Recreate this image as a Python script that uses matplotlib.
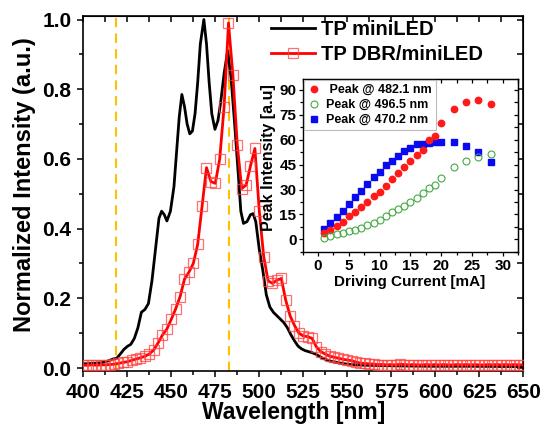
import matplotlib
matplotlib.use("Agg")
import matplotlib.pyplot as plt
from matplotlib.ticker import MultipleLocator

plt.rcParams['font.family'] = ['Liberation Sans', 'DejaVu Sans']
plt.rcParams['font.weight'] = 'bold'

# ---------------- data ----------------
black_wl = [400, 405, 410, 414, 417, 419, 421, 423, 425, 427, 429, 431, 433, 435, 437, 439,
            441, 443, 444.5, 446, 447.5, 449.5, 451.5, 453, 454.5, 456, 457.5, 459, 460.5,
            462, 463.5, 465, 466.5, 468.5, 470, 471.5, 473, 474.8, 476.5, 478, 480, 482,
            484, 486, 488, 489.5, 491, 493, 495, 496.5, 498, 500, 502, 504, 506, 508, 510,
            512, 514, 516, 518, 520, 522, 524, 526, 528, 530, 532, 534, 536, 538, 540, 545,
            550, 555, 560, 570, 580, 600, 620, 650]
black_int = [0.012, 0.013, 0.015, 0.020, 0.026, 0.028, 0.040, 0.053, 0.062, 0.068, 0.085,
             0.115, 0.160, 0.168, 0.185, 0.250, 0.340, 0.430, 0.450, 0.440, 0.422, 0.450,
             0.520, 0.620, 0.720, 0.785, 0.750, 0.700, 0.672, 0.680, 0.730, 0.820, 0.930,
             1.000, 0.930, 0.820, 0.730, 0.685, 0.710, 0.760, 0.845, 0.910, 0.830, 0.700,
             0.560, 0.450, 0.415, 0.420, 0.440, 0.443, 0.420, 0.340, 0.280, 0.210, 0.175,
             0.160, 0.150, 0.140, 0.130, 0.115, 0.095, 0.078, 0.063, 0.055, 0.050, 0.047,
             0.044, 0.040, 0.034, 0.028, 0.024, 0.020, 0.015, 0.011, 0.009, 0.008, 0.007,
             0.006, 0.005, 0.005, 0.004]

red_wl = [400.0, 402.5, 405.0, 407.5, 410.0, 412.5, 415.0, 417.5, 420.0, 422.5, 425.0,
          427.5, 430.0, 432.5, 435.0, 437.5, 440.0, 442.5, 445.0, 447.5, 450.0, 452.5,
          455.0, 457.5, 460.0, 462.5, 465.0, 467.5, 470.0, 472.5, 475.0, 477.5, 480.0,
          482.5, 485.0, 487.5, 490.0, 492.5, 495.0, 497.5, 500.0, 502.5, 505.0, 507.5,
          510.0, 512.5, 515.0, 517.5, 520.0, 522.5, 525.0, 527.5, 530.0, 532.5, 535.0,
          537.5, 540.0, 542.5, 545.0, 547.5, 550.0, 552.5, 555.0, 557.5, 560.0, 562.5,
          565.0, 567.5, 570.0, 572.5, 575.0, 577.5, 580.0, 582.5, 585.0, 587.5, 590.0,
          592.5, 595.0, 597.5, 600.0, 602.5, 605.0, 607.5, 610.0, 612.5, 615.0, 617.5,
          620.0, 622.5, 625.0, 627.5, 630.0, 632.5, 635.0, 637.5, 640.0, 642.5, 645.0,
          647.5, 650.0]
red_int = [0.008, 0.008, 0.009, 0.008, 0.009, 0.009, 0.010, 0.011, 0.013, 0.016, 0.018,
           0.022, 0.026, 0.029, 0.034, 0.040, 0.052, 0.072, 0.095, 0.112, 0.140, 0.170,
           0.205, 0.255, 0.275, 0.300, 0.355, 0.465, 0.575, 0.535, 0.530, 0.600, 0.750,
           0.990, 0.840, 0.640, 0.515, 0.525, 0.580, 0.630, 0.450, 0.320, 0.250, 0.243,
           0.252, 0.257, 0.195, 0.150, 0.122, 0.100, 0.092, 0.090, 0.085, 0.060, 0.047,
           0.040, 0.034, 0.031, 0.028, 0.025, 0.023, 0.021, 0.017, 0.014, 0.013, 0.012,
           0.011, 0.010, 0.010, 0.009, 0.010, 0.009, 0.011, 0.010, 0.009, 0.010, 0.009,
           0.009, 0.010, 0.009, 0.010, 0.009, 0.010, 0.009, 0.009, 0.010, 0.009, 0.010,
           0.009, 0.010, 0.009, 0.009, 0.010, 0.009, 0.010, 0.009, 0.010, 0.009, 0.010,
           0.009, 0.009]

dash_wl = [418.5, 482.7]

current = [1, 2, 3, 4, 5, 6, 7, 8, 9, 10, 11, 12, 13, 14, 15, 16, 17, 18, 19, 20, 22, 24, 26, 28]
peak_482 = [3.6, 5.4, 8.0, 10.6, 13.8, 16.5, 19.3, 22.4, 25.9, 28.5, 32.1, 36.6, 40.2, 43.4,
            47.2, 50.6, 54.0, 59.7, 62.3, 70.3, 78.3, 83.0, 84.2, 81.3]
peak_496 = [1.1, 2.0, 3.0, 3.9, 4.8, 5.9, 7.0, 8.4, 10.0, 11.6, 14.0, 16.2, 18.2, 20.2, 22.5,
            24.8, 27.8, 30.8, 32.8, 37.2, 43.3, 47.3, 49.9, 51.5]
peak_470 = [6.0, 9.6, 13.7, 17.3, 21.5, 25.7, 29.3, 33.3, 37.4, 40.8, 44.6, 47.4, 50.0, 53.0,
            54.8, 57.3, 57.5, 58.3, 58.7, 58.9, 58.7, 56.0, 52.4, 46.9]

# ---------------- figure ----------------
W, H = 551, 437
fig = plt.figure(figsize=(W / 100, H / 100), dpi=100)

def px_axes(l, t, r, b):
    return [l / W, 1 - b / H, (r - l) / W, (b - t) / H]

ax = fig.add_axes(px_axes(83.3, 15.7, 523.3, 370.7))

for x in dash_wl:
    ax.axvline(x, color='#FFC000', lw=1.5, ls=(0, (4.5, 3)), zorder=1)

ax.plot(black_wl, black_int, color='black', lw=2.0, label='TP miniLED', zorder=3)
ax.plot(red_wl, red_int, color='red', lw=2.0, marker='s', ms=7, mfc='none',
        mec=(1, 0.25, 0.25, 0.75), mew=0.9, label='TP DBR/miniLED', zorder=4)

ax.set_xlim(400, 650)
ax.set_ylim(-0.0077, 1.011)
ax.xaxis.set_major_locator(MultipleLocator(25))
ax.xaxis.set_minor_locator(MultipleLocator(12.5))
ax.yaxis.set_major_locator(MultipleLocator(0.2))
ax.yaxis.set_minor_locator(MultipleLocator(0.1))
ax.set_yticks([0.0, 0.2, 0.4, 0.6, 0.8, 1.0])
ax.set_yticklabels(['0.0', '0.2', '0.4', '0.6', '0.8', '1.0'])

for sp in ax.spines.values():
    sp.set_linewidth(1.2)
ax.tick_params(which='both', direction='out', top=False, right=False, width=1.1)
ax.tick_params(which='major', length=4.5)
ax.tick_params(which='minor', length=3)
ax.tick_params(axis='x', labelsize=15, pad=4.5)
ax.tick_params(axis='y', labelsize=15, pad=4)
for lab in ax.get_xticklabels() + ax.get_yticklabels():
    lab.set_fontweight('bold')

# mirrored inward ticks on top/right
axt = ax.secondary_xaxis('top')
axt.xaxis.set_major_locator(MultipleLocator(25))
axt.xaxis.set_minor_locator(MultipleLocator(12.5))
axt.tick_params(which='both', direction='in', labeltop=False, width=1.1)
axt.tick_params(which='major', length=4.5)
axt.tick_params(which='minor', length=4.5)
axr = ax.secondary_yaxis('right')
axr.yaxis.set_major_locator(MultipleLocator(0.2))
axr.yaxis.set_minor_locator(MultipleLocator(0.1))
axr.tick_params(which='both', direction='in', labelright=False, width=1.1)
axr.tick_params(which='major', length=4.5)
axr.tick_params(which='minor', length=4.5)

ax.set_xlabel('Wavelength [nm]', fontsize=16.5, fontweight='bold')
ax.set_ylabel('Normalized Intensity (a.u.)', fontsize=17, fontweight='bold')
ax.xaxis.set_label_coords((293.3 - 83.3) / 440, (370.7 - 413) / 355)
ax.xaxis.label.set_va('center')
ax.yaxis.set_label_coords((25 - 83.3) / 440, (370.7 - 185) / 355)
ax.yaxis.label.set_va('center')

leg = ax.legend(loc='upper left', bbox_to_anchor=(271 / W, 1 - 20 / H),
                bbox_transform=fig.transFigure, frameon=False,
                prop={'weight': 'bold', 'size': 14.5}, handlelength=2.2,
                handletextpad=0.3, labelspacing=0.3, borderpad=0, borderaxespad=0)

# ---------------- inset ----------------
ax2 = fig.add_axes(px_axes(302.7, 79, 518.3, 252))
ax2.set_facecolor('white')
ax2.plot(current, peak_482, ls='none', marker='o', ms=4.6, color='#FF1A1A', mec='#FF1A1A',
         label=' Peak @ 482.1 nm', zorder=3)
ax2.plot(current, peak_496, ls='none', marker='o', ms=5, mfc='none', mec='#44AA44', mew=0.8,
         label='Peak @ 496.5 nm', zorder=3)
ax2.plot(current, peak_470, ls='none', marker='s', ms=4.4, color='#0A0AF0',
         label='Peak @ 470.2 nm', zorder=2)
ax2.set_xlim(-2.5, 32.5)
ax2.set_ylim(-7.6, 96.6)
ax2.xaxis.set_major_locator(MultipleLocator(5))
ax2.xaxis.set_minor_locator(MultipleLocator(2.5))
ax2.yaxis.set_major_locator(MultipleLocator(15))
ax2.yaxis.set_minor_locator(MultipleLocator(7.5))
for sp in ax2.spines.values():
    sp.set_linewidth(1.0)
ax2.tick_params(which='both', direction='out', top=False, right=False, width=0.9)
ax2.tick_params(which='major', length=3)
ax2.tick_params(which='minor', length=2)
ax2.tick_params(axis='x', labelsize=11, pad=2)
ax2.tick_params(axis='y', labelsize=11, pad=1.5)
for lab in ax2.get_xticklabels() + ax2.get_yticklabels():
    lab.set_fontweight('bold')
a2t = ax2.secondary_xaxis('top')
a2t.xaxis.set_major_locator(MultipleLocator(5))
a2t.xaxis.set_minor_locator(MultipleLocator(2.5))
a2t.tick_params(which='both', direction='in', labeltop=False, width=0.9, length=3)
a2r = ax2.secondary_yaxis('right')
a2r.yaxis.set_major_locator(MultipleLocator(15))
a2r.yaxis.set_minor_locator(MultipleLocator(7.5))
a2r.tick_params(which='both', direction='in', labelright=False, width=0.9, length=3)

ax2.set_xlabel('Driving Current [mA]', fontsize=11, fontweight='bold')
ax2.set_ylabel('Peak Intensity [a.u]', fontsize=11.5, fontweight='bold')
ax2.xaxis.set_label_coords((410 - 302.7) / 215.6, (252 - 281.7) / 173)
ax2.xaxis.label.set_va('center')
ax2.yaxis.set_label_coords((268 - 302.7) / 215.6, (252 - 157.5) / 173)
ax2.yaxis.label.set_va('center')

leg2 = ax2.legend(loc='upper left', prop={'weight': 'bold', 'size': 9}, frameon=True,
                  fancybox=False, edgecolor='#BBBBBB', framealpha=1, handlelength=1.0,
                  handletextpad=0.5, labelspacing=0.25, borderpad=0.3, borderaxespad=0.1)
leg2.get_frame().set_linewidth(0.8)

fig.savefig('out.png', dpi=100)
